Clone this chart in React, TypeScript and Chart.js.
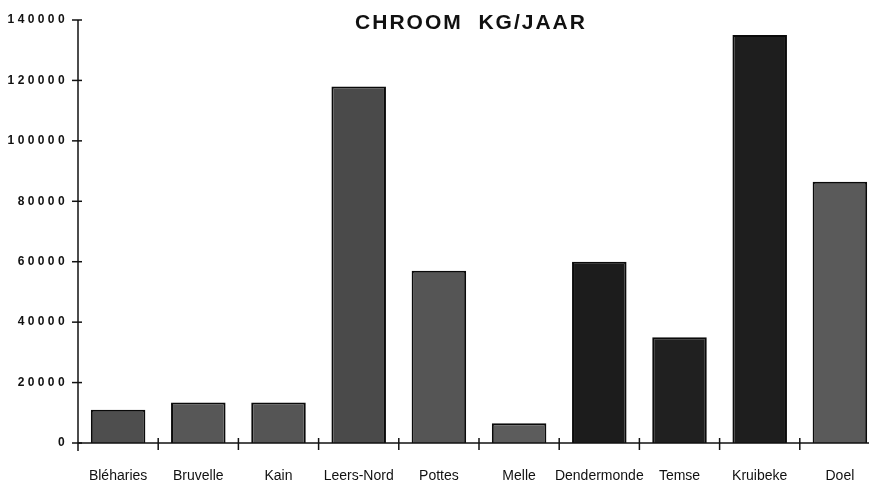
import { useEffect, useRef } from "react";
import { Chart, registerables } from "chart.js";

Chart.register(...registerables);

const categories = [
  "Bléharies",
  "Bruvelle",
  "Kain",
  "Leers-Nord",
  "Pottes",
  "Melle",
  "Dendermonde",
  "Temse",
  "Kruibeke",
  "Doel",
];
const chroomKgPerJaar = [11000, 13400, 13400, 118000, 57000, 6500, 60000, 35000, 135000, 86500];
const barColors = [
  "#4e4e4e",
  "#575757",
  "#555555",
  "#4a4a4a",
  "#555555",
  "#5c5c5c",
  "#1c1c1c",
  "#202020",
  "#1e1e1e",
  "#5a5a5a",
];
const yTickValues = [0, 20000, 40000, 60000, 80000, 100000, 120000, 140000];
const chartTitle = "CHROOM  KG/JAAR";

const CANVAS_W = 890;
const CANVAS_H = 482;
const FONT = "'Liberation Sans', Arial, Helvetica, sans-serif";

export default function App() {
  const ref = useRef<HTMLCanvasElement | null>(null);

  useEffect(() => {
    const canvas = ref.current;
    if (!canvas) return;

    const decor = {
      id: "decor",
      afterDatasetsDraw(chart: any) {
        const { ctx, chartArea: a, scales } = chart;
        const x = scales.x;
        const y = scales.y;
        ctx.save();
        ctx.strokeStyle = "#111";
        ctx.lineWidth = 1.5;
        const line = (x1: number, y1: number, x2: number, y2: number) => {
          ctx.beginPath();
          ctx.moveTo(x1, y1);
          ctx.lineTo(x2, y2);
          ctx.stroke();
        };
        // axes
        line(a.left, a.top, a.left, a.bottom + 8);
        line(a.left, a.bottom, a.right, a.bottom);
        // y ticks crossing the axis
        for (const v of yTickValues) {
          const py = y.getPixelForValue(v);
          line(a.left - 6, py, a.left + 4, py);
        }
        // x ticks at category boundaries
        for (let i = 1; i < categories.length; i++) {
          const px = (x.getPixelForValue(i - 1) + x.getPixelForValue(i)) / 2;
          line(px, a.bottom - 5, px, a.bottom + 7);
        }
        // y labels
        ctx.fillStyle = "#111";
        ctx.font = `bold 12px ${FONT}`;
        ctx.letterSpacing = "3.4px";
        ctx.textAlign = "right";
        ctx.textBaseline = "middle";
        for (const v of yTickValues) {
          ctx.fillText(String(v), a.left - 10, y.getPixelForValue(v));
        }
        // title
        ctx.font = `bold 21px ${FONT}`;
        ctx.letterSpacing = "2px";
        ctx.textAlign = "center";
        ctx.fillText(chartTitle, (a.left + a.right) / 2 - 8, 23);
        ctx.restore();
      },
    };

    const chart = new Chart(canvas, {
      type: "bar",
      data: {
        labels: categories,
        datasets: [
          {
            label: "Chroom kg/jaar",
            data: chroomKgPerJaar,
            backgroundColor: barColors,
            borderColor: "#0a0a0a",
            borderWidth: 2,
            barPercentage: 0.68,
            categoryPercentage: 1,
          },
        ],
      },
      options: {
        responsive: false,
        animation: false,
        devicePixelRatio: 1,
        layout: { padding: { top: 20, right: CANVAS_W - 880, left: 0, bottom: 0 } },
        plugins: {
          legend: { display: false },
          title: { display: false },
          tooltip: { enabled: false },
        },
        scales: {
          x: {
            offset: true,
            grid: { display: false, drawTicks: false },
            border: { display: false },
            ticks: {
              color: "#111",
              font: { family: FONT, size: 14 },
              padding: 25,
              maxRotation: 0,
              autoSkip: false,
            },
            afterFit: (s: any) => {
              s.height = 39;
            },
          },
          y: {
            min: 0,
            max: 140000,
            grid: { display: false, drawTicks: false },
            border: { display: false },
            ticks: { display: false, stepSize: 20000 },
            afterFit: (s: any) => {
              s.width = 78;
            },
          },
        },
      },
      plugins: [decor],
    });

    return () => chart.destroy();
  }, []);

  return (
    <div
      style={{
        position: "fixed",
        left: 0,
        top: 0,
        width: 869,
        height: 482,
        overflow: "hidden",
        background: "#fff",
      }}
    >
      <canvas
        ref={ref}
        width={CANVAS_W}
        height={CANVAS_H}
        style={{ width: CANVAS_W, height: CANVAS_H, display: "block" }}
      />
    </div>
  );
}
